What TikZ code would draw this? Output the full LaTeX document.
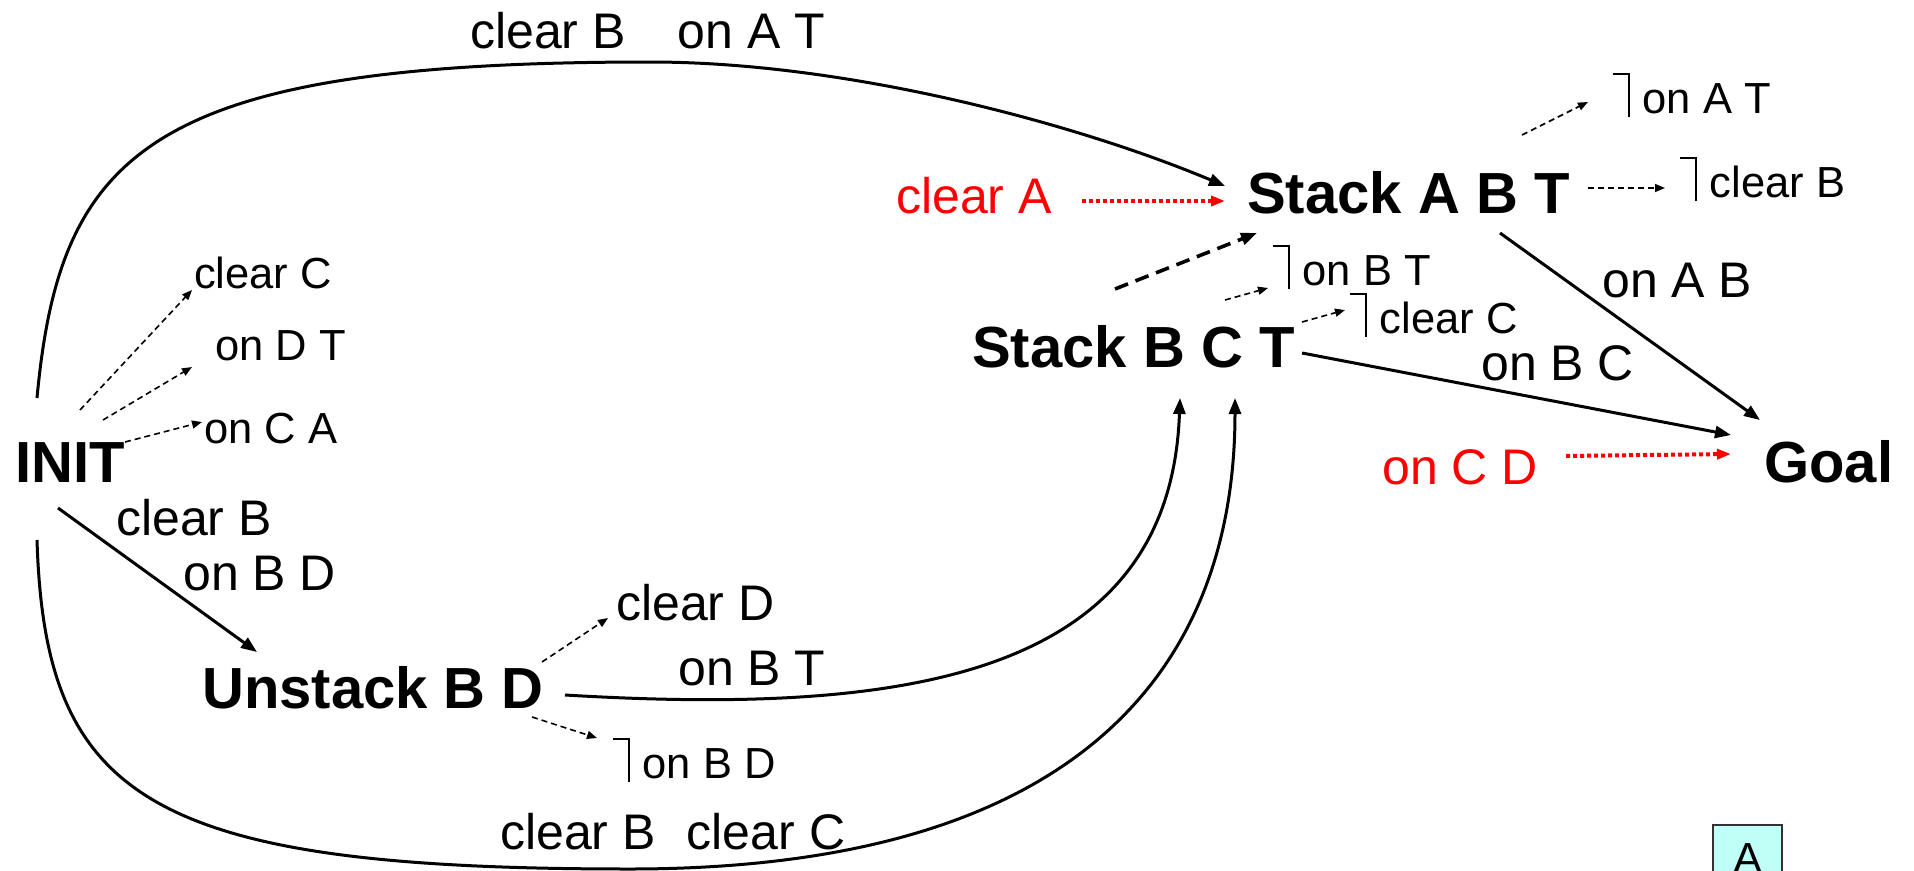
\documentclass[tikz,border=0pt]{standalone}
\usepackage{fontspec}
\setmainfont{Liberation Sans}
\usetikzlibrary{arrows.meta}
\definecolor{boxfill}{RGB}{192,255,248}
\definecolor{boxline}{RGB}{50,50,50}
% negation mark drawn in front of a deleted fact
\newcommand\negsym{\rule[0.88em]{0.33em}{0.05em}\rule[-0.1em]{0.05em}{1.03em}\hspace{0.3em}}
\begin{document}
\begin{tikzpicture}[x=1pt,y=-1pt,
  act/.style={anchor=base west,inner sep=0pt,font=\fontsize{58}{60}\selectfont\bfseries},
  lbl/.style={anchor=base west,inner sep=0pt,font=\fontsize{50}{52}\selectfont},
  eff/.style={anchor=base west,inner sep=0pt,font=\fontsize{43.5}{45}\selectfont},
  redlbl/.style={lbl,text=red},
  link/.style={line width=3pt,-{Triangle[length=16pt,width=12pt]}},
  effarrow/.style={line width=1.6pt,dash pattern=on 6pt off 4pt,-{Triangle[length=10pt,width=8pt]}},
  orderarrow/.style={line width=3.6pt,dash pattern=on 14pt off 8pt,-{Triangle[length=16pt,width=12pt]}},
  causal/.style={red,line width=4pt,dash pattern=on 4pt off 3pt,-{Triangle[length=14pt,width=10pt]}}]
\useasboundingbox (0,0) rectangle (1914,870);
\clip (0,0) rectangle (1914,870);

% actions
\node[act] (init)    at (15,482)   {INIT};
\node[act] (unstack) at (202,708)  {Unstack B D};
\node[act] (sbct)    at (972,367)  {Stack B C T};
\node[act] (sabt)    at (1247,213) {Stack A B T};
\node[act] (goal)    at (1764,482) {Goal};

% labels on causal links
\node[lbl] (lTop)  at (470,48)  {clear B\hspace{52pt}on A T};
\node[lbl] (lCB)   at (116,535) {clear B};
\node[lbl] (lBD)   at (183,590) {on B D};
\node[lbl] (lOnBT) at (678,685) {on B T};
\node[lbl] (lBot)  at (500,849) {clear B\hspace{31pt}clear C};
\node[lbl] (lOnAB) at (1602,297) {on A B};
\node[lbl] (lOnBC) at (1481,380) {on B C};

% effects
\node[eff] (eCC)   at (194,288) {clear C};
\node[eff] (eDT)   at (215,360) {on D T};
\node[eff] (eCA)   at (204,443) {on C A};
\node[lbl] (eClD)  at (616,620) {clear D};
\node[eff] (nOnBD) at (613,778) {\negsym on B D};
\node[eff] (nOnBT) at (1273,285) {\negsym on B T};
\node[eff] (nClC)  at (1350,333) {\negsym clear C};
\node[eff] (nOnAT) at (1613,113) {\negsym on A T};
\node[eff] (nClB)  at (1680,197) {\negsym clear B};

% open conditions
\node[redlbl] (rClA)  at (896,213)  {clear A};
\node[redlbl] (rOnCD) at (1382,484) {on C D};

% step marker
\node[eff,anchor=north west,draw=boxline,line width=2pt,fill=boxfill,
      minimum width=69pt,text height=31pt,text depth=0pt,inner ysep=17pt,inner xsep=0pt]
      (boxA) at (1712,824) {A};

% causal links
\draw[link] ([shift={(22,-84)}]init.base west)
  .. controls (60,150) and (150,62) .. (650,62)
  .. controls (850,62) and (1080,125) .. ([shift={(-22,-27)}]sabt.base west);
\draw[link] ([shift={(43,26)}]init.base west) -- ([shift={(55,-56)}]unstack.base west);
\draw[link] ([shift={(22,58)}]init.base west)
  .. controls (45,800) and (150,869) .. (630,869)
  .. controls (1100,869) and (1235,650) .. ([shift={(263,31)}]sbct.base west);
\draw[link] ([shift={(363,-13)}]unstack.base west)
  .. controls (900,715) and (1170,680) .. ([shift={(208,31)}]sbct.base west);
\draw[link] ([shift={(330,-14)}]sbct.base west) -- ([shift={(-33,-47)}]goal.base west);
\draw[link] ([shift={(253,20)}]sabt.base west) -- ([shift={(-4,-62)}]goal.base west);

% ordering constraint
\draw[orderarrow] ([shift={(143,-78)}]sbct.base west) -- ([shift={(10,20)}]sabt.base west);

% effects of the steps
\draw[effarrow] ([shift={(65,-72)}]init.base west) -- ([shift={(-2,2)}]eCC.base west);
\draw[effarrow] ([shift={(88,-62)}]init.base west) -- ([shift={(-23,7)}]eDT.base west);
\draw[effarrow] ([shift={(110,-40)}]init.base west) -- ([shift={(-2,-21)}]eCA.base west);
\draw[effarrow] ([shift={(340,-46)}]unstack.base west) -- ([shift={(-8,-2)}]eClD.base west);
\draw[effarrow] ([shift={(330,9)}]unstack.base west) -- ([shift={(-16,-40)}]nOnBD.base west);
\draw[effarrow] ([shift={(253,-67)}]sbct.base west) -- ([shift={(-5,3)}]nOnBT.base west);
\draw[effarrow] ([shift={(330,-45)}]sbct.base west) -- ([shift={(-5,-23)}]nClC.base west);
\draw[effarrow] ([shift={(275,-78)}]sabt.base west) -- ([shift={(-25,-11)}]nOnAT.base west);
\draw[effarrow] ([shift={(341,-25)}]sabt.base west) -- ([shift={(-15,-9)}]nClB.base west);

% open preconditions
\draw[causal] ([shift={(186,-12)}]rClA.base west) -- ([shift={(-22,-12)}]sabt.base west);
\draw[causal] ([shift={(184,-28)}]rOnCD.base west) -- ([shift={(-33,-28)}]goal.base west);
\end{tikzpicture}
\end{document}
